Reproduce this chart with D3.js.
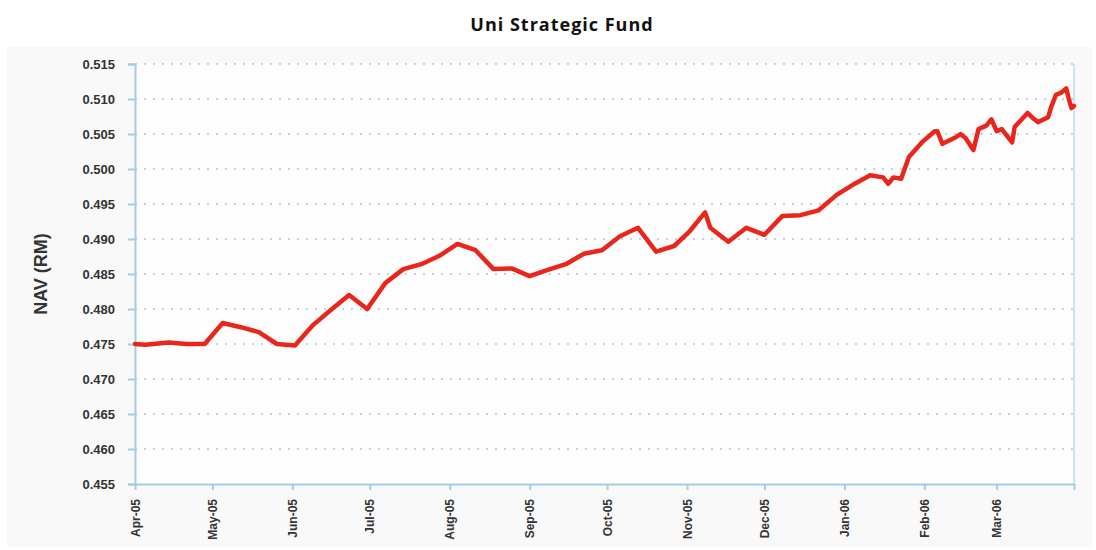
<!DOCTYPE html>
<meta charset="utf-8">
<style>
body { margin: 0; background: #fff; }
.title { font-family: "Open Sans", sans-serif; font-weight: 700; font-size: 18px; letter-spacing: 1px; fill: #111; }
.ylabel { font-family: "Liberation Sans", Arial, sans-serif; font-weight: 700; font-size: 18px; fill: #333; }
.axis text { font-family: "Liberation Sans", Arial, sans-serif; font-weight: 700; fill: #333; }
</style>
<body>
<script src="https://cdn.jsdelivr.net/npm/d3@7"></script>
<script>

// NAV readings (date, RM)
var dates = [
  "2005-04-01","2005-04-05","2005-04-14","2005-04-21","2005-04-28",
  "2005-05-05","2005-05-12","2005-05-19","2005-05-26","2005-06-02",
  "2005-06-09","2005-06-16","2005-06-23","2005-06-30","2005-07-07",
  "2005-07-14","2005-07-21","2005-07-28","2005-08-04","2005-08-11",
  "2005-08-18","2005-08-25","2005-09-01","2005-09-08","2005-09-15",
  "2005-09-22","2005-09-29","2005-10-06","2005-10-13","2005-10-20",
  "2005-10-27","2005-11-02","2005-11-08","2005-11-10","2005-11-17",
  "2005-11-24","2005-12-01","2005-12-08","2005-12-15","2005-12-22",
  "2005-12-29","2006-01-05","2006-01-11","2006-01-16","2006-01-18",
  "2006-01-20","2006-01-23","2006-01-26","2006-01-31","2006-02-05",
  "2006-02-06","2006-02-08","2006-02-13","2006-02-15","2006-02-17",
  "2006-02-20","2006-02-22","2006-02-25","2006-02-27","2006-03-01",
  "2006-03-03","2006-03-07","2006-03-08","2006-03-13","2006-03-15",
  "2006-03-17","2006-03-21","2006-03-22","2006-03-24","2006-03-26",
  "2006-03-28","2006-03-29","2006-03-30","2006-03-31"
];
var nav = [
  0.4750,0.4749,0.4752,0.4750,0.4750,
  0.4780,0.4774,0.4767,0.4750,0.4748,
  0.4777,0.4799,0.4820,0.4800,0.4837,
  0.4857,0.4864,0.4876,0.4893,0.4884,
  0.4857,0.4858,0.4847,0.4856,0.4864,
  0.4879,0.4884,0.4904,0.4916,0.4882,
  0.4890,0.4911,0.4938,0.4916,0.4896,
  0.4916,0.4906,0.4933,0.4934,0.4941,
  0.4963,0.4979,0.4991,0.4988,0.4979,
  0.4988,0.4986,0.5017,0.5038,0.5054,
  0.5054,0.5036,0.5045,0.5050,0.5044,
  0.5027,0.5057,0.5062,0.5071,0.5054,
  0.5057,0.5038,0.5060,0.5080,0.5073,
  0.5067,0.5074,0.5087,0.5106,0.5109,
  0.5115,0.5100,0.5087,0.5090
];
var yTicks = [0.455,0.460,0.465,0.470,0.475,0.480,0.485,0.490,0.495,0.500,0.505,0.510,0.515];
var monthTicks = ["2005-04-01","2005-05-01","2005-06-01","2005-07-01","2005-08-01","2005-09-01",
                  "2005-10-01","2005-11-01","2005-12-01","2006-01-01","2006-02-01","2006-03-01"];
var endDate = "2006-03-31";

var parse = d3.timeParse("%Y-%m-%d");
var data = dates.map(function(d, i) { return {date: parse(d), v: nav[i]}; });

var W = 1096, H = 550;
var margin = {top: 64, right: 22, bottom: 66, left: 135},
    width = W - margin.left - margin.right,
    height = H - margin.top - margin.bottom;

var svg = d3.select("body").append("svg")
    .attr("width", W)
    .attr("height", H);

// panel background
svg.append("rect")
    .attr("x", 7).attr("y", 47)
    .attr("width", 1085).attr("height", 500)
    .attr("fill", "#f9f9fa");

svg.append("text")
    .attr("class", "title")
    .attr("x", 562).attr("y", 31)
    .attr("text-anchor", "middle")
    .text("Uni Strategic Fund");

var g = svg.append("g")
    .attr("transform", "translate(" + margin.left + "," + margin.top + ")");

var x = d3.scaleTime()
    .domain([parse(dates[0]), parse(endDate)])
    .range([0, width]);
var y = d3.scaleLinear()
    .domain([0.455, 0.515])
    .range([height, 0]);

g.append("rect")
    .attr("width", width).attr("height", height)
    .attr("fill", "#fdfdfe");

var axisColor = "#a3cde2";

// dotted gridlines
g.selectAll(".grid")
    .data(yTicks.slice(1))
  .enter().append("line")
    .attr("class", "grid")
    .attr("x1", 0).attr("x2", width)
    .attr("y1", function(d) { return y(d); })
    .attr("y2", function(d) { return y(d); })
    .attr("stroke", "#9ccbe2")
    .attr("stroke-width", 1.5)
    .attr("stroke-dasharray", "2,7");

// right border
g.append("line")
    .attr("x1", width).attr("x2", width)
    .attr("y1", 0).attr("y2", height)
    .attr("stroke", axisColor)
    .attr("stroke-width", 1);

// y axis
var yAxis = g.append("g")
    .attr("class", "axis")
    .call(d3.axisLeft(y).tickValues(yTicks).tickFormat(d3.format(".3f")).tickSize(7).tickPadding(13));
yAxis.selectAll("text").style("font-size", "13px");

// x axis
var xAxis = g.append("g")
    .attr("class", "axis")
    .attr("transform", "translate(0," + height + ")")
    .call(d3.axisBottom(x)
      .tickValues(monthTicks.map(parse).concat([parse(endDate)]))
      .tickFormat(function(d) { return +d === +parse(endDate) ? "" : d3.timeFormat("%b-%y")(d); })
      .tickSize(6).tickSizeOuter(0));
xAxis.selectAll("text")
    .style("font-size", "12px")
    .style("text-anchor", "end")
    .attr("transform", "rotate(-90)")
    .attr("x", -15)
    .attr("y", 0)
    .attr("dx", 0)
    .attr("dy", "0.35em");

svg.selectAll(".axis path, .axis line")
    .attr("stroke", axisColor)
    .attr("stroke-width", 2);

// y axis label
svg.append("text")
    .attr("class", "ylabel")
    .attr("text-anchor", "middle")
    .attr("transform", "translate(47," + (margin.top + height / 2) + ")rotate(-90)")
    .text("NAV (RM)");

// NAV line
var line = d3.line()
    .x(function(d) { return x(d.date); })
    .y(function(d) { return y(d.v); });

g.append("path")
    .datum(data)
    .attr("fill", "none")
    .attr("stroke", "#e8261c")
    .attr("stroke-width", 4.5)
    .attr("stroke-linejoin", "round")
    .attr("stroke-linecap", "round")
    .attr("d", line);

</script>
</body>
